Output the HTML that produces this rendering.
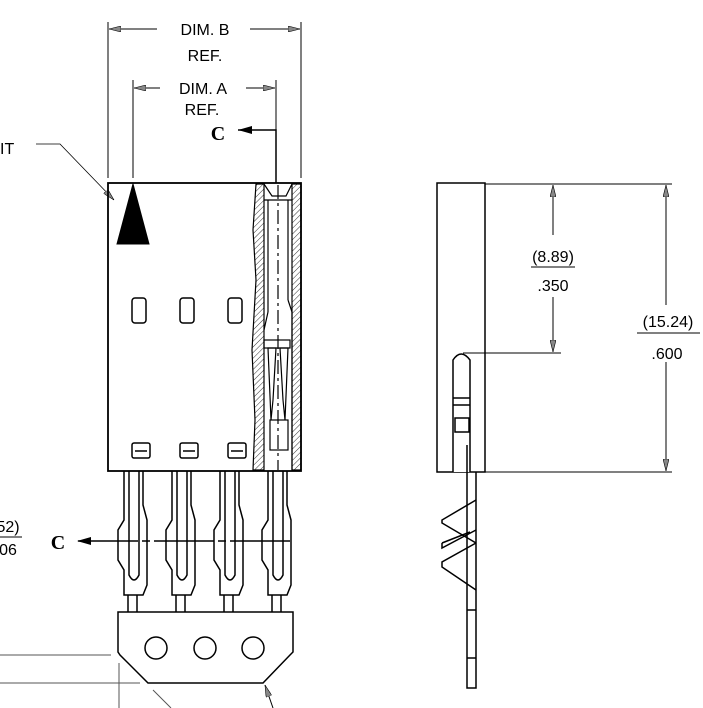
<!DOCTYPE html>
<html><head><style>body{margin:0;background:#fff}svg{display:block}text{font-family:"Liberation Sans",sans-serif;fill:#000}</style></head>
<body>
<svg width="703" height="708" viewBox="0 0 703 708" xmlns="http://www.w3.org/2000/svg">
<defs>
<pattern id="h" width="4" height="4" patternUnits="userSpaceOnUse" patternTransform="rotate(45)"><line x1="0" y1="0" x2="0" y2="4" stroke="#000" stroke-width="0.8"/></pattern>
<marker id="a" markerWidth="12" markerHeight="6" refX="12" refY="3" orient="auto" markerUnits="userSpaceOnUse"><path d="M0,0 L12,3 L0,6 Z" fill="#888" stroke="#000" stroke-width="0.6"/></marker>
<marker id="b" markerWidth="14" markerHeight="8" refX="14" refY="4" orient="auto" markerUnits="userSpaceOnUse"><path d="M0,0 L14,4 L0,8 Z" fill="#000"/></marker>
</defs>
<g stroke="#000" fill="none" stroke-width="1">
<line x1="108" y1="22" x2="108" y2="178"/><line x1="301" y1="22" x2="301" y2="178"/>
<line x1="157" y1="29" x2="109" y2="29" marker-end="url(#a)"/>
<line x1="250" y1="29" x2="300" y2="29" marker-end="url(#a)"/>
<line x1="133" y1="80" x2="133" y2="178"/><line x1="276" y1="80" x2="276" y2="130"/>
<line x1="160" y1="88" x2="134" y2="88" marker-end="url(#a)"/>
<line x1="246" y1="88" x2="275" y2="88" marker-end="url(#a)"/>
<polyline points="276,183 276,130 238,130" stroke-width="1.5" marker-end="url(#b)"/>
<polyline points="36,144 60,144 114,200" stroke-width="0.8" marker-end="url(#a)"/>
<rect x="108" y="183" width="193" height="288" stroke-width="1.8"/>
<path d="M133,184 L149,244 L117,244 Z" fill="#000"/>
<rect x="132" y="298" width="14" height="25" rx="3" stroke-width="1.5"/>
<rect x="180" y="298" width="14" height="25" rx="3" stroke-width="1.5"/>
<rect x="228" y="298" width="14" height="25" rx="3" stroke-width="1.5"/>
<g stroke-width="1.5">
<rect x="132" y="443" width="18" height="15" rx="2"/><line x1="135" y1="451" x2="147" y2="451"/>
<rect x="180" y="443" width="18" height="15" rx="2"/><line x1="183" y1="451" x2="195" y2="451"/>
<rect x="228" y="443" width="18" height="15" rx="2"/><line x1="231" y1="451" x2="243" y2="451"/>
</g>
<path d="M256,184 L264,184 L264,470 L253,470 L255,420 L252,350 L256,280 L253,230 Z" fill="url(#h)" stroke-width="1.2"/>
<path d="M292,184 L301,184 L301,470 L292,470 Z" fill="url(#h)" stroke-width="1.2"/>
<path d="M264,184 L272,196 L286,196 L292,184" fill="#fff" stroke-width="1.2"/>
<line x1="264" y1="200" x2="292" y2="200" stroke-width="1.2"/>
<line x1="268" y1="200" x2="268" y2="312" stroke-width="1.2"/>
<line x1="288" y1="200" x2="288" y2="300" stroke-width="1.2"/>
<polyline points="288,300 292,312 292,470" stroke-width="1.2"/>
<polyline points="268,312 264,330" stroke-width="1.2"/>
<rect x="264" y="340" width="26" height="8" stroke-width="1.2"/>
<path d="M268,348 L276,348 L273,400 L271,420 Z M288,348 L280,348 L283,400 L285,420 Z" stroke-width="1.2"/>
<rect x="270" y="420" width="18" height="30" stroke-width="1.2"/>
<line x1="278" y1="185" x2="278" y2="470" stroke-dasharray="14,4,3,4" stroke-width="1.2"/>
<g stroke-width="1.5">
<path d="M124,471 L124,520 L118,530 L118,560 L124,570 L124,595 L143,595 L147,585 L147,520 L143,505 L143,471"/>
<path d="M129,471 L129,575 Q134,585 139,575 L139,471"/>
<path d="M172,471 L172,520 L166,530 L166,560 L172,570 L172,595 L191,595 L195,585 L195,520 L191,505 L191,471"/>
<path d="M177,471 L177,575 Q182,585 187,575 L187,471"/>
<path d="M220,471 L220,520 L214,530 L214,560 L220,570 L220,595 L239,595 L243,585 L243,520 L239,505 L239,471"/>
<path d="M225,471 L225,575 Q230,585 235,575 L235,471"/>
<path d="M268,471 L268,520 L262,530 L262,560 L268,570 L268,595 L287,595 L291,585 L291,520 L287,505 L287,471"/>
<path d="M273,471 L273,575 Q278,585 283,575 L283,471"/>
<line x1="128" y1="595" x2="128" y2="612"/><line x1="137" y1="595" x2="137" y2="612"/>
<line x1="176" y1="595" x2="176" y2="612"/><line x1="185" y1="595" x2="185" y2="612"/>
<line x1="224" y1="595" x2="224" y2="612"/><line x1="233" y1="595" x2="233" y2="612"/>
<line x1="272" y1="595" x2="272" y2="612"/><line x1="281" y1="595" x2="281" y2="612"/>
<path d="M118,612 L293,612 L293,652 L290,655 L263,683 L148,683 L120,655 L118,652 Z"/>
<circle cx="156" cy="648" r="11"/><circle cx="205" cy="648" r="11"/><circle cx="253" cy="648" r="11"/>
</g>
<polyline points="290,541 77,541" stroke-width="1.5" stroke-dasharray="60,4,8,4" marker-end="url(#b)"/>
<g stroke="#555" stroke-width="1">
<line x1="0" y1="655" x2="111" y2="655"/><line x1="0" y1="683" x2="140" y2="683"/>
<line x1="119" y1="663" x2="119" y2="708"/>
<line x1="153" y1="690" x2="171" y2="708"/>
</g>
<line x1="273" y1="708" x2="265" y2="685" marker-end="url(#a)"/>
<line x1="0" y1="537" x2="22" y2="537" stroke-width="1"/>
<g stroke-width="1.5">
<rect x="437" y="183" width="48" height="289"/>
<path d="M453,472 L453,360 Q461,348 470,360 L470,472" fill="#fff"/>
<line x1="453" y1="398" x2="470" y2="398"/><line x1="453" y1="405" x2="470" y2="405"/>
<rect x="455" y="418" width="14" height="14"/>
<path d="M467,445 L467,688 L476,688 L476,472"/>
<line x1="467" y1="610" x2="476" y2="610"/><line x1="467" y1="658" x2="476" y2="658"/>
<path d="M476,500 L442,520 L442,523 L476,543"/>
<path d="M476,543 L442,562 L442,567 L476,590"/>
<path d="M442,543 L442,548 L476,530"/>
<path d="M442,543 L470,532"/>
</g>
<g stroke-width="1">
<line x1="485" y1="184" x2="672" y2="184"/><line x1="485" y1="472" x2="672" y2="472"/>
<line x1="463" y1="353" x2="561" y2="353"/>
<line x1="553" y1="235" x2="553" y2="185" marker-end="url(#a)"/>
<line x1="553" y1="297" x2="553" y2="352" marker-end="url(#a)"/>
<line x1="666" y1="305" x2="666" y2="185" marker-end="url(#a)"/>
<line x1="666" y1="362" x2="666" y2="471" marker-end="url(#a)"/>
<line x1="531" y1="267" x2="575" y2="267"/>
<line x1="637" y1="333" x2="700" y2="333"/>
</g>
</g>
<g font-size="16" text-anchor="middle">
<text x="205" y="35">DIM. B</text><text x="205" y="61">REF.</text>
<text x="203" y="94">DIM. A</text><text x="202" y="115">REF.</text>
<text x="0" y="154" text-anchor="start">IT</text>
<text x="553" y="262">(8.89)</text><text x="553" y="291">.350</text>
<text x="668" y="327">(15.24)</text><text x="667" y="359">.600</text>
<text x="8" y="532">52)</text><text x="8" y="555">06</text>
</g>
<g font-weight="bold" font-size="20" text-anchor="middle">
<text x="218" y="140" style="font-family:'Liberation Serif',serif">C</text>
<text x="58" y="549" style="font-family:'Liberation Serif',serif">C</text>
</g>
</svg>
</body></html>
